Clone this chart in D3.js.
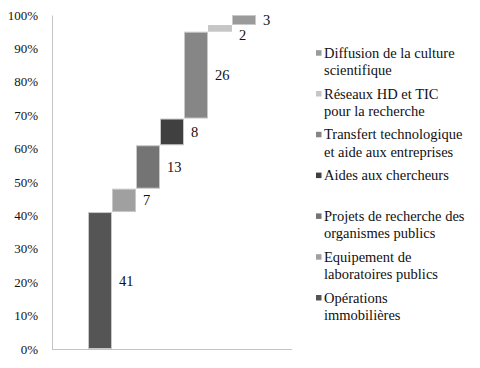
<!DOCTYPE html>
<html>
<head>
<meta charset="utf-8">
<script src="https://cdn.jsdelivr.net/npm/d3@7"></script>
<style>
  body { margin: 0; background: #fff; }
  text { font-family: "Liberation Serif", serif; }
</style>
</head>
<body>
<div id="chart"></div>
<script>
// series, in stacking order (bottom to top); "\n" marks the legend line break
var series = ["Opérations\nimmobilières",
  "Equipement de\nlaboratoires publics",
  "Projets de recherche des\norganismes publics",
  "Aides aux chercheurs",
  "Transfert technologique\net aide aux entreprises",
  "Réseaux HD et TIC\npour la recherche",
  "Diffusion de la culture\nscientifique"];
var values = [41, 7, 13, 8, 26, 2, 3];
var yTicks = [0, 10, 20, 30, 40, 50, 60, 70, 80, 90, 100];

var colors = ["#555555", "#a0a0a0", "#747474", "#404040", "#868686", "#c6c6c6", "#9a9a9a"];
var serif = "'Liberation Serif', serif";

var width = 480, height = 368;
var plot = {left: 52, right: 292, top: 15, bottom: 349};

var svg = d3.select("#chart").append("svg")
  .attr("width", width)
  .attr("height", height);

// cumulative starts for the waterfall
var data = [];
var run = 0;
values.forEach(function(v, i) {
  data.push({name: series[i], value: v, start: run, end: run + v, color: colors[i]});
  run += v;
});

var y = d3.scaleLinear().domain([0, 100]).range([plot.bottom, plot.top]);
var x = d3.scaleBand()
  .domain(data.map(function(d) { return d.name; }))
  .range([88, 256])
  .padding(0);

// axes
svg.append("g")
  .attr("transform", "translate(" + plot.left + ",0)")
  .call(d3.axisLeft(y).tickValues(yTicks).tickSize(0).tickPadding(14)
    .tickFormat(function(d) { return d + "%"; }))
  .call(function(g) {
    g.attr("font-family", null);
    g.select(".domain").attr("stroke", "#c4c4c4");
    g.selectAll("text").attr("fill", "#111")
      .style("font-family", serif).style("font-size", "13px");
  });

svg.append("line")
  .attr("x1", plot.left).attr("x2", plot.right)
  .attr("y1", plot.bottom + 0.5).attr("y2", plot.bottom + 0.5)
  .attr("stroke", "#c4c4c4");

// bars
svg.selectAll(".bar")
  .data(data)
  .enter().append("rect")
  .attr("class", "bar")
  .attr("x", function(d) { return x(d.name) + 0.5; })
  .attr("width", x.bandwidth() - 1)
  .attr("y", function(d) { return y(d.end) + 0.5; })
  .attr("height", function(d) { return y(d.start) - y(d.end) - 1; })
  .attr("fill", function(d) { return d.color; })
  .attr("stroke", "#c8c8c8")
  .attr("stroke-width", 1);

// value labels, centred on the bar, pushed down if they collide with the next one
var labelY = data.map(function(d) { return y((d.start + d.end) / 2); });
for (var i = labelY.length - 2; i >= 0; i--) {
  if (labelY[i] - labelY[i + 1] < 15) labelY[i] = labelY[i + 1] + 15;
}
svg.selectAll(".val")
  .data(data)
  .enter().append("text")
  .attr("class", "val")
  .attr("x", function(d) { return x(d.name) + x.bandwidth() + 7; })
  .attr("y", function(d, i) { return labelY[i]; })
  .attr("dy", "0.35em")
  .style("font-family", serif)
  .style("font-size", "14.5px")
  .attr("fill", "#111")
  .text(function(d) { return d.value; });

// legend (reverse order, top = last series)
var legend = svg.append("g").attr("transform", "translate(316,0)");
var items = legend.selectAll(".item")
  .data(data.slice().reverse())
  .enter().append("g")
  .attr("class", "item")
  .attr("transform", function(d, i) { return "translate(0," + (52.7 + i * 40.8) + ")"; });

items.append("rect")
  .attr("x", 0).attr("y", -2.5)
  .attr("width", 5.5).attr("height", 5.5)
  .attr("fill", function(d) { return d.color; });

items.append("text")
  .attr("x", 8)
  .style("font-family", serif)
  .style("font-size", "14.5px")
  .attr("fill", "#111")
  .selectAll("tspan")
  .data(function(d) { return d.name.split("\n"); })
  .enter().append("tspan")
  .attr("x", 8)
  .attr("y", function(d, i) { return i * 17.5; })
  .attr("dy", "0.35em")
  .text(function(d) { return d; });
</script>
</body>
</html>
